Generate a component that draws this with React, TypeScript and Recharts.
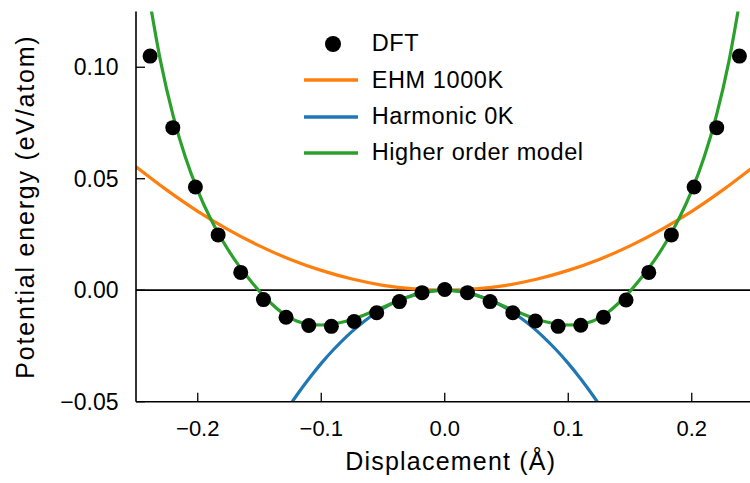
import React from 'react';
import { ComposedChart, Line, Scatter, XAxis, YAxis, ReferenceLine, Legend } from 'recharts';

const FONT = '"Liberation Sans", Arial, Helvetica, sans-serif';

// DFT points
const dftX = [-0.2386, -0.2202, -0.2019, -0.1835, -0.1652, -0.1468, -0.1285, -0.1101, -0.0918, -0.0734, -0.0551, -0.0367, -0.0184, 0,
  0.0184, 0.0367, 0.0551, 0.0734, 0.0918, 0.1101, 0.1285, 0.1468, 0.1652, 0.1835, 0.2019, 0.2202, 0.2386];
const dftY = [0.105, 0.0729, 0.0463, 0.0248, 0.008, -0.0042, -0.0121, -0.0158, -0.0162, -0.014, -0.0101, -0.0051, -0.0011, 0.0003,
  -0.0011, -0.0051, -0.0101, -0.0138, -0.0162, -0.0157, -0.0121, -0.0044, 0.008, 0.0248, 0.0463, 0.0729, 0.105];

// EHM 1000K
const ehmX = [-0.25, -0.225, -0.2, -0.175, -0.15, -0.125, -0.1, -0.075, -0.05, -0.025, 0, 0.025, 0.05, 0.075, 0.1, 0.125, 0.15, 0.175, 0.2, 0.225, 0.25];
const ehmY = [0.0554, 0.0449, 0.0354, 0.0271, 0.0199, 0.0138, 0.0089, 0.005, 0.0022, 0.0006, 0, 0.0006, 0.0022, 0.005, 0.0089, 0.0138, 0.0199, 0.0271, 0.0354, 0.0449, 0.0554];

// Harmonic 0K
const harmX = [-0.13, -0.12, -0.11, -0.1, -0.09, -0.08, -0.07, -0.06, -0.05, -0.04, -0.03, -0.02, -0.01, 0,
  0.01, 0.02, 0.03, 0.04, 0.05, 0.06, 0.07, 0.08, 0.09, 0.1, 0.11, 0.12, 0.13];
const harmY = [-0.0554, -0.0472, -0.0397, -0.0328, -0.0266, -0.021, -0.0161, -0.0118, -0.0082, -0.0052, -0.003, -0.0013, -0.0003, 0,
  -0.0003, -0.0013, -0.003, -0.0052, -0.0082, -0.0118, -0.0161, -0.021, -0.0266, -0.0328, -0.0397, -0.0472, -0.0554];

// Higher order model
const highX = [-0.24, -0.23, -0.22, -0.21, -0.2, -0.19, -0.18, -0.17, -0.16, -0.15, -0.14, -0.13, -0.12, -0.11, -0.1, -0.09, -0.08, -0.07, -0.06, -0.05, -0.04, -0.03, -0.02, -0.01, 0,
  0.01, 0.02, 0.03, 0.04, 0.05, 0.06, 0.07, 0.08, 0.09, 0.1, 0.11, 0.12, 0.13, 0.14, 0.15, 0.16, 0.17, 0.18, 0.19, 0.2, 0.21, 0.22, 0.23, 0.24];
const highY = [0.1334, 0.1024, 0.0784, 0.0596, 0.0447, 0.0325, 0.0223, 0.0136, 0.0061, -0.0005, -0.0062, -0.0108, -0.0138, -0.0152, -0.0156, -0.0151, -0.0139, -0.0121, -0.0099, -0.0076, -0.0053, -0.0032, -0.0015, -0.0004, 0,
  -0.0004, -0.0015, -0.0032, -0.0053, -0.0076, -0.0099, -0.0121, -0.0139, -0.0151, -0.0156, -0.0152, -0.0138, -0.0108, -0.0062, -0.0005, 0.0061, 0.0136, 0.0223, 0.0325, 0.0447, 0.0596, 0.0784, 0.1024, 0.1334];

const seriesNames = ['DFT', 'EHM 1000K', 'Harmonic 0K', 'Higher order model'];
const seriesColors = ['#000000', '#ff7f0e', '#1f77b4', '#2ca02c'];

const xTicks = [-0.2, -0.1, 0, 0.1, 0.2];
const xTickLabels = ['\u22120.2', '\u22120.1', '0.0', '0.1', '0.2'];
const yTicks = [-0.05, 0, 0.05, 0.1];
const yTickLabels = ['\u22120.05', '0.00', '0.05', '0.10'];

const toPoints = (xs: number[], ys: number[]) => xs.map((x, i) => ({ x, y: ys[i] }));
const dft = toPoints(dftX, dftY);
const ehm = toPoints(ehmX, ehmY);
const harm = toPoints(harmX, harmY);
const high = toPoints(highX, highY);

const fmtX = (v: number) => {
  const i = xTicks.findIndex((t) => Math.abs(t - v) < 1e-9);
  return i >= 0 ? xTickLabels[i] : String(v);
};
const fmtY = (v: number) => {
  const i = yTicks.findIndex((t) => Math.abs(t - v) < 1e-9);
  return i >= 0 ? yTickLabels[i] : String(v);
};

const renderLegend = (props: any) => {
  const payload = props.payload || [];
  return (
    <div style={{ fontFamily: FONT, fontSize: 23.5, color: '#000' }}>
      {payload.map((entry: any, i: number) => (
        <div key={i} style={{ display: 'flex', alignItems: 'center', height: 36.4 }}>
          <svg width={54} height={20} style={{ marginRight: 13.7, display: 'block' }}>
            {entry.type === 'circle' ? (
              <circle cx={29} cy={10} r={8} fill={entry.color} />
            ) : (
              <line x1={0} x2={54} y1={10} y2={10} stroke={entry.color} strokeWidth={3.3} />
            )}
          </svg>
          <span style={{ letterSpacing: 0.6, lineHeight: 1, whiteSpace: 'nowrap' }}>{entry.value}</span>
        </div>
      ))}
    </div>
  );
};

const Dot = (props: any) => <circle cx={props.cx} cy={props.cy} r={7.5} fill="#000" />;
const NoTick = () => <g />;

const XLabel = (props: any) => {
  const vb = props.viewBox || { x: 0, y: 0, width: 0, height: 0 };
  return (
    <text x={vb.x + vb.width / 2 + 6} y={470} textAnchor="middle" fontFamily={FONT} fontSize={25} letterSpacing={1.2} fill="#000">
      Displacement (Å)
    </text>
  );
};
const YLabel = (props: any) => {
  const vb = props.viewBox || { x: 0, y: 0, width: 0, height: 0 };
  const cx = vb.x + 25;
  const cy = vb.y + vb.height / 2;
  return (
    <text x={cx} y={cy} transform={`rotate(-90 ${cx} ${cy})`} textAnchor="middle" dominantBaseline="central" fontFamily={FONT} fontSize={25} letterSpacing={1.8} fill="#000">
      Potential energy (eV/atom)
    </text>
  );
};

export default function App() {
  const axisLine = { stroke: '#000', strokeWidth: 1.6 };
  const tickLine = { stroke: '#000', strokeWidth: 1.3 };
  return (
    <div style={{ position: 'absolute', left: 0, top: 0, width: 750, height: 483, overflow: 'hidden', background: '#fff' }}>
      <ComposedChart width={760} height={483} margin={{ top: 11.5, right: 6.5, bottom: 0, left: 0 }} style={{ fontFamily: FONT }}>
        <XAxis
          dataKey="x"
          type="number"
          domain={[-0.25, 0.25]}
          ticks={xTicks}
          interval={0}
          allowDataOverflow
          height={81.3}
          tickSize={-9}
          tickMargin={27.3}
          tickFormatter={fmtX}
          tick={{ fontSize: 22, fill: '#000', fontFamily: FONT }}
          axisLine={axisLine}
          tickLine={tickLine}
          label={<XLabel />}
        />
        <XAxis
          xAxisId="top"
          orientation="top"
          dataKey="x"
          type="number"
          domain={[-0.25, 0.25]}
          ticks={xTicks}
          interval={0}
          allowDataOverflow
          height={0}
          tickSize={-9}
          tick={<NoTick />}
          axisLine={axisLine}
          tickLine={tickLine}
        />
        <YAxis
          type="number"
          domain={[-0.05, 0.125]}
          ticks={yTicks}
          interval={0}
          allowDataOverflow
          width={136}
          tickSize={-9}
          tickMargin={26.5}
          tickFormatter={fmtY}
          tick={{ fontSize: 23, fill: '#000', fontFamily: FONT }}
          axisLine={axisLine}
          tickLine={tickLine}
          label={<YLabel />}
        />
        <YAxis
          yAxisId="right"
          orientation="right"
          type="number"
          domain={[-0.05, 0.125]}
          ticks={yTicks}
          interval={0}
          allowDataOverflow
          width={0}
          tickSize={-9}
          tick={<NoTick />}
          axisLine={axisLine}
          tickLine={tickLine}
        />
        <ReferenceLine y={0} stroke="#000" strokeWidth={1.8} />
        <Scatter name={seriesNames[0]} data={dft} dataKey="y" fill={seriesColors[0]} shape={<Dot />} isAnimationActive={false} />
        <Line name={seriesNames[1]} data={ehm} dataKey="y" type="monotone" stroke={seriesColors[1]} strokeWidth={3.2} dot={false} activeDot={false} isAnimationActive={false} />
        <Line name={seriesNames[2]} data={harm} dataKey="y" type="monotone" stroke={seriesColors[2]} strokeWidth={3.2} dot={false} activeDot={false} isAnimationActive={false} />
        <Line name={seriesNames[3]} data={high} dataKey="y" type="monotone" stroke={seriesColors[3]} strokeWidth={3.2} dot={false} activeDot={false} isAnimationActive={false} />
        <Legend
          layout="vertical"
          align="center"
          verticalAlign="middle"
          content={renderLegend}
          wrapperStyle={{ top: 25.8, left: 304, width: 'auto', height: 'auto' }}
        />
      </ComposedChart>
    </div>
  );
}
